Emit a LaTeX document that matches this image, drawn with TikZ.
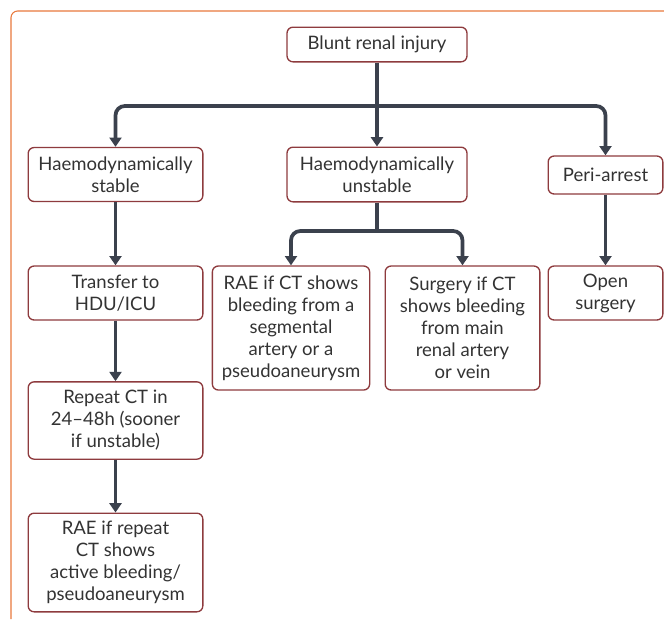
\documentclass[tikz,border=0pt]{standalone}
\usepackage{fontspec}
\setmainfont{Lato}
\usepackage{xcolor}
\usetikzlibrary{arrows.meta,positioning,calc}

\definecolor{framecol}{HTML}{E8783C}
\definecolor{boxred}{HTML}{8E3B3E}
\definecolor{flowgrey}{HTML}{3B414D}
\definecolor{textgrey}{HTML}{333333}

\begin{document}
\begin{tikzpicture}[
  x=0.75pt, y=-0.75pt,
  font=\fontsize{13.9}{16.5}\selectfont,
  box/.style={draw=boxred, line width=1pt, rounded corners=4.5pt, fill=white,
    text=textgrey, align=center, inner sep=2pt},
  flow/.style={draw=flowgrey, line width=2.8pt, rounded corners=7pt},
  arrow/.style={flow, -{Triangle[width=9pt,length=7pt]}}
]
\useasboundingbox (0,0) rectangle (664,619);
% frame
\draw[framecol, line width=0.8pt, rounded corners=5pt] (11,619) -- (11,11) -- (664,11);

% top level
\node[box, minimum width=135pt, minimum height=26pt] (blunt) at (377,44.5) {Blunt renal injury};
\node[box, minimum width=131pt, minimum height=40.5pt] (stable) at (115.5,174.5) {Haemodynamically\\stable};
\node[box, minimum width=135pt, minimum height=41pt] (unstable) at (377,174.5) {Haemodynamically\\unstable};
\node[box, minimum width=86pt, minimum height=28.5pt] (peri) at (605.5,175) {Peri-arrest};

% stable branch
\node[box, minimum width=131pt, minimum height=40.5pt] (transfer) at (115.5,293) {Transfer to\\HDU/ICU};
\node[box, minimum width=131pt, minimum height=58pt] (repeat) at (115.5,420.5) {Repeat CT in\\24--48h (sooner\\if unstable)};
\node[box, minimum width=131pt, minimum height=74pt] (raerep) at (115.5,562.5) {RAE if repeat\\CT shows\\active bleeding/\\pseudoaneurysm};

% unstable branch
\node[box, minimum width=118pt, minimum height=93pt] (raect) at (291,328) {RAE if CT shows\\bleeding from a\\segmental\\artery or a\\pseudoaneurysm};
\node[box, minimum width=116pt, minimum height=93pt] (surgery) at (462.5,328) {Surgery if CT\\shows bleeding\\from main\\renal artery\\or vein};

% peri-arrest branch
\node[box, minimum width=86pt, minimum height=40.5pt] (open) at (605.5,293) {Open\\surgery};

% connectors
\coordinate (split) at (377,106);
\coordinate (split2) at (377,231);
\draw[arrow] (blunt) -- (unstable);
\draw[arrow] (split) -| (stable.north);
\draw[arrow] (split) -| (peri.north);
\draw[arrow] (stable) -- (transfer);
\draw[arrow] (transfer) -- (repeat);
\draw[arrow] (repeat) -- (raerep);
\draw[flow] (unstable) -- (split2);
\draw[arrow] (split2) -| (raect.north);
\draw[arrow] (split2) -| (surgery.north);
\draw[arrow] (peri) -- (open);
\end{tikzpicture}
\end{document}
